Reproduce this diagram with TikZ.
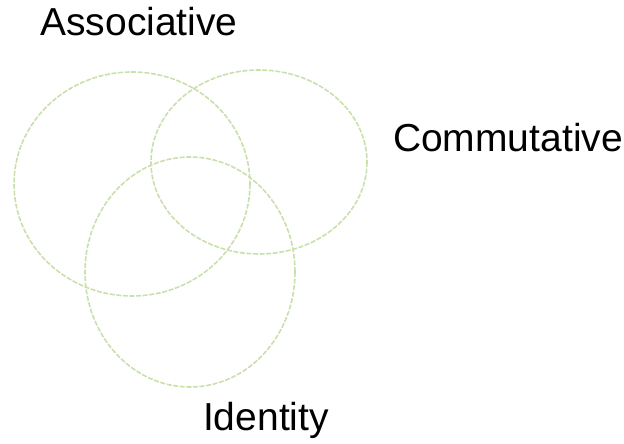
\documentclass[tikz,border=0pt]{standalone}
\usepackage{fontspec}
\setmainfont{Liberation Sans}
\definecolor{venngreen}{HTML}{C9E0AC}
\tikzset{
	ring/.style={draw=venngreen, line width=1.6pt, dash pattern=on 5pt off 1.6pt},
	lbl/.style={font=\fontsize{39}{46}\selectfont, inner sep=0pt}
}
\begin{document}
\begin{tikzpicture}[x=1pt, y=-1pt, line join=round]
	\useasboundingbox (0,0) rectangle (624,444);
	\path (132,184) coordinate (A) (259,162) coordinate (C) (190,272) coordinate (I);
	\foreach \p/\rx/\ry in {A/118/112,C/108/92,I/105/115}{
		\draw[ring] (\p) ellipse [x radius=\rx, y radius=\ry];
	}
	\node[lbl] (assoc) at (139,22) {Associative};
	\node[lbl] (comm) at (508,138) {Commutative};
	\node[lbl] (ident) at (266,420) {Identity};
\end{tikzpicture}
\end{document}
